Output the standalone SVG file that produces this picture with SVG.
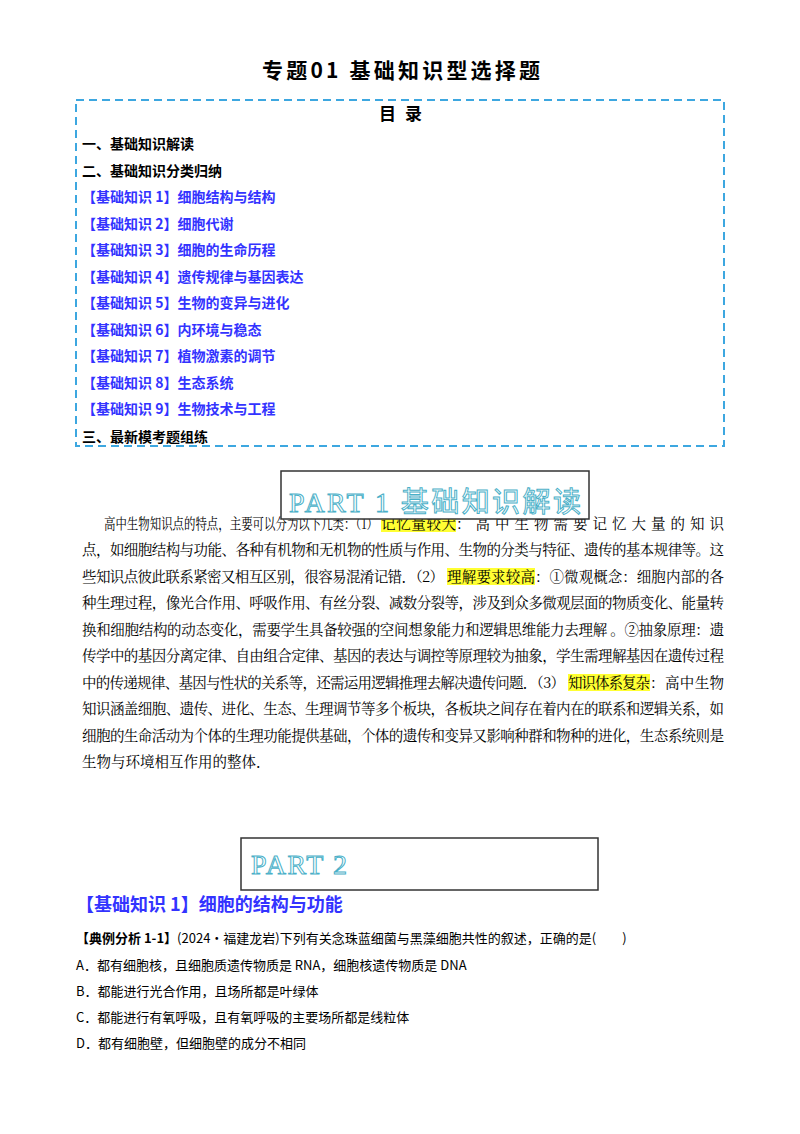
<svg xmlns="http://www.w3.org/2000/svg" width="800" height="1134" viewBox="0 0 800 1134">
<style>
text{font-family:"Noto Sans CJK SC","Liberation Sans",sans-serif;fill:#000}
.b{font-weight:bold}
.toc{font-size:14px;font-weight:bold}
.blue{fill:#3333ff}
.body{font-size:14.5px;font-family:"Noto Serif CJK SC","Noto Sans CJK SC",serif}
.hl{fill:#ffff33}
.part{font-family:"Liberation Serif","Noto Sans CJK SC",serif;fill:#fff;stroke:#4ab0c8;stroke-width:1;font-size:28px}
.opt{font-size:13px}
</style>
<rect width="800" height="1134" fill="#fff"/>
<g id="title"><text x="262" y="78" textLength="278" class="b" font-size="21">专题01 基础知识型选择题</text></g>
<g id="toc">
<rect x="76" y="100" width="648" height="346" fill="none" stroke="#3da7e0" stroke-width="2" stroke-dasharray="8,5"/>
<text x="379" y="120" class="b" font-size="17">目</text>
<text x="405" y="120" class="b" font-size="17">录</text>
<text x="82" y="149" class="toc">一、基础知识解读</text>
<text x="82" y="176" class="toc">二、基础知识分类归纳</text>
<text x="82" y="202" class="toc blue">【基础知识 1】细胞结构与结构</text>
<text x="82" y="229" class="toc blue">【基础知识 2】细胞代谢</text>
<text x="82" y="255" class="toc blue">【基础知识 3】细胞的生命历程</text>
<text x="82" y="282" class="toc blue">【基础知识 4】遗传规律与基因表达</text>
<text x="82" y="308" class="toc blue">【基础知识 5】生物的变异与进化</text>
<text x="82" y="335" class="toc blue">【基础知识 6】内环境与稳态</text>
<text x="82" y="361" class="toc blue">【基础知识 7】植物激素的调节</text>
<text x="82" y="388" class="toc blue">【基础知识 8】生态系统</text>
<text x="82" y="414" class="toc blue">【基础知识 9】生物技术与工程</text>
<text x="82" y="442" class="toc">三、最新模考题组练</text>
</g>
<g id="body">
<rect x="381" y="515" width="75" height="17" class="hl"/>
<rect x="447" y="568" width="88" height="17" class="hl"/>
<rect x="568" y="674" width="82" height="17" class="hl"/>
<text class="body" x="104" y="529" textLength="274" lengthAdjust="spacingAndGlyphs">高中生物知识点的特点，主要可以分为以下几类：（1）</text>
<text class="body" x="381" y="529" textLength="75">记忆量较大</text>
<text class="body" x="456" y="529" textLength="268">：高中生物需要记忆大量的知识</text>
<text class="body" x="82" y="555" textLength="642">点，如细胞结构与功能、各种有机物和无机物的性质与作用、生物的分类与特征、遗传的基本规律等。这</text>
<text class="body" x="82" y="582" textLength="362">些知识点彼此联系紧密又相互区别，很容易混淆记错．（2）</text>
<text class="body" x="447" y="582" textLength="88">理解要求较高</text>
<text class="body" x="535" y="582" textLength="189">：①微观概念：细胞内部的各</text>
<text class="body" x="82" y="608" textLength="642">种生理过程，像光合作用、呼吸作用、有丝分裂、减数分裂等，涉及到众多微观层面的物质变化、能量转</text>
<text class="body" x="82" y="635" textLength="642">换和细胞结构的动态变化，需要学生具备较强的空间想象能力和逻辑思维能力去理解 。②抽象原理：遗</text>
<text class="body" x="82" y="661" textLength="642">传学中的基因分离定律、自由组合定律、基因的表达与调控等原理较为抽象，学生需理解基因在遗传过程</text>
<text class="body" x="82" y="688" textLength="483">中的传递规律、基因与性状的关系等，还需运用逻辑推理去解决遗传问题．（3）</text>
<text class="body" x="568" y="688" textLength="82">知识体系复杂</text>
<text class="body" x="650" y="688" textLength="74">：高中生物</text>
<text class="body" x="82" y="714" textLength="642">知识涵盖细胞、遗传、进化、生态、生理调节等多个板块，各板块之间存在着内在的联系和逻辑关系，如</text>
<text class="body" x="82" y="741" textLength="642">细胞的生命活动为个体的生理功能提供基础，个体的遗传和变异又影响种群和物种的进化，生态系统则是</text>
<text class="body" x="82" y="767">生物与环境相互作用的整体．</text>
</g>
<g id="part1">
<rect x="281" y="471" width="308" height="48" fill="#fff" stroke="#333" stroke-width="1.5"/>
<text x="289" y="512" class="part" textLength="292">PART 1 基础知识解读</text>
</g>
<g id="part2">
<rect x="241" y="838" width="357" height="52" fill="#fff" stroke="#333" stroke-width="1.5"/>
<text x="251" y="874" class="part" textLength="96">PART 2</text>
</g>
<g id="question">
<text x="76" y="911" class="b blue" font-size="18">【基础知识 1】细胞的结构与功能</text>
<text x="76" y="943" class="opt"><tspan class="b">【典例分析 1-1】</tspan>(2024•福建龙岩)下列有关念珠蓝细菌与黑藻细胞共性的叙述，正确的是(　　)</text>
<text x="76" y="970" class="opt">A．都有细胞核，且细胞质遗传物质是 RNA，细胞核遗传物质是 DNA</text>
<text x="76" y="996" class="opt">B．都能进行光合作用，且场所都是叶绿体</text>
<text x="76" y="1022" class="opt">C．都能进行有氧呼吸，且有氧呼吸的主要场所都是线粒体</text>
<text x="76" y="1048" class="opt">D．都有细胞壁，但细胞壁的成分不相同</text>
</g>
</svg>
